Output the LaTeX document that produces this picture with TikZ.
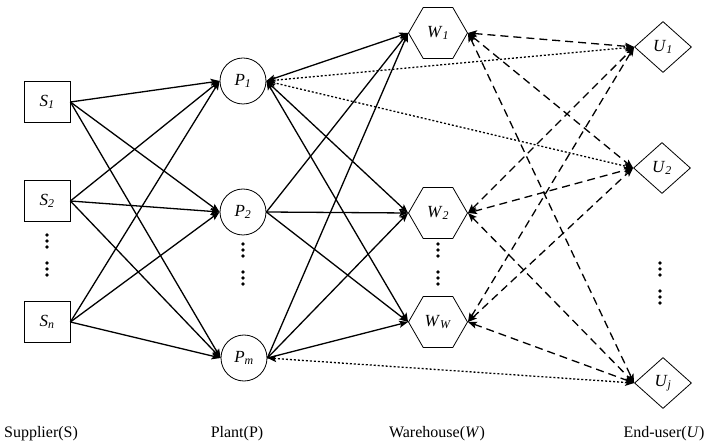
\documentclass[tikz,border=0pt]{standalone}
\usepackage{fontspec}
\setmainfont{Liberation Serif}
\usetikzlibrary{arrows,arrows.meta,shapes.geometric}
\tikzset{
    supplier/.style={
           rectangle,
           draw=black, line width=0.8pt,
           minimum width=46pt,
           minimum height=41pt,
           inner sep=0pt,
           font=\fontsize{17}{20}\selectfont,
           },
    plant/.style={
           circle,
           draw=black, line width=0.8pt,
           minimum size=46pt,
           inner sep=0pt,
           font=\fontsize{17}{20}\selectfont,
           },
    warehouse/.style={
           regular polygon, regular polygon sides=6,
           draw=black, line width=0.8pt,
           minimum size=59pt,
           inner sep=0pt,
           font=\fontsize{17}{20}\selectfont,
           },
    enduser/.style={
           diamond,
           draw=black, line width=0.8pt,
           minimum width=57pt,
           minimum height=51pt,
           inner sep=0pt,
           font=\fontsize{17}{20}\selectfont,
           },
    flow/.style={line width=1.3pt},
    backflow/.style={line width=1.3pt, dash pattern=on 8pt off 5pt},
    directflow/.style={line width=1.3pt, dash pattern=on 2pt off 2pt},
}
\newcommand{\idx}[2]{\textit{#1}\textsubscript{\textit{#2}}}

\begin{document}
\begin{tikzpicture}[->,>={Stealth[length=9pt,width=7pt,inset=2pt]},x=1pt,y=-1pt,font=\fontsize{16}{19}\selectfont]
 \useasboundingbox (0,0) rectangle (710,446);

 % suppliers
 \node[supplier] (S1) at (47,102) {\idx{S}{1}};
 \node[supplier] (S2) at (47,201) {\idx{S}{2}};
 \node[supplier] (Sn) at (47,322) {\idx{S}{n}};

 % plants
 \node[plant] (P1) at (243,81) {\idx{P}{1}};
 \node[plant] (P2) at (243,212) {\idx{P}{2}};
 \node[plant] (Pm) at (244,358) {\idx{P}{m}};

 % warehouses
 \node[warehouse] (W1) at (438,33) {\idx{W}{1}};
 \node[warehouse] (W2) at (438,213) {\idx{W}{2}};
 \node[warehouse] (WW) at (438,322) {\idx{W}{W}};

 % end-users
 \node[enduser] (U1) at (663,47) {\idx{U}{1}};
 \node[enduser] (U2) at (662,168) {\idx{U}{2}};
 \node[enduser] (Uj) at (663,383) {\idx{U}{j}};

 % column titles
 \node (Supplier) at (41,434) {Supplier(S)};
 \node (Plant) at (237,434) {Plant(P)};
 \node (Warehouse) at (437,434) {Warehouse(\textit{W})};
 \node (Enduser) at (664,434) {End-user(\textit{U})};

 % dots between the nodes
 \foreach \x/\y in {47/235,243/244,438/244,660/263}
  \foreach \d in {0,6,12,28,34,40}
   \fill[-] (\x,\y+\d) circle (1.9pt);

 % supplier -> plant
 \foreach \s in {1,2,n}
  \foreach \p in {1,2,m}
   \draw[flow] (S\s.east) -- (P\p.west);

 % plant -> warehouse
 \foreach \p in {2,m}
  \foreach \w in {1,2,W}
   \draw[flow] (P\p.east) -- (W\w.west);
 \foreach \w in {1,2,W}
  \draw[flow,<->] (P1.east) -- (W\w.west);

 % warehouse <-> end-user
 \foreach \w in {1,2,W}
  \foreach \u in {1,2,j}
   \draw[backflow,<->] (W\w.east) -- (U\u.west);

 % end-user <-> plant
 \draw[directflow,<->] (P1.east) -- (U1.west);
 \draw[directflow,<->] (P1.east) -- (U2.west);
 \draw[directflow,<->] (Pm.east) -- (Uj.west);
\end{tikzpicture}
\end{document}
